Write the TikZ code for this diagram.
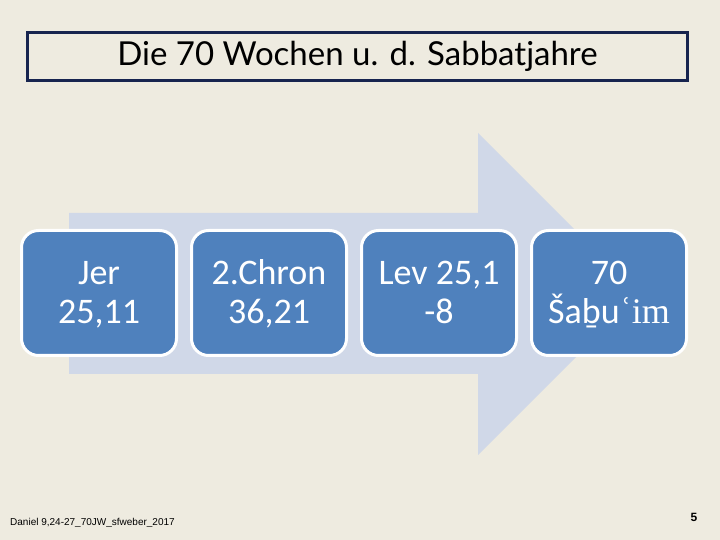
\documentclass[tikz,border=0pt]{standalone}
\usepackage{fontspec}
\setmainfont{Carlito}
\newfontfamily\titlefont{Lato}
\newfontfamily\footfont{Liberation Sans}
\newfontfamily\ayinfont{Liberation Serif}
\usetikzlibrary{positioning}
\definecolor{slidebg}{HTML}{EEEBE0}
\definecolor{arrowfill}{HTML}{D0D8E8}
\definecolor{boxfill}{HTML}{4F81BD}
\definecolor{titleframe}{HTML}{17244F}

\begin{document}
\begin{tikzpicture}[x=1pt,y=1pt,node distance=12pt,
  stepbox/.style={draw=white,line width=3pt,fill=boxfill,rounded corners=17pt,minimum width=155pt,minimum height=125pt,text=white,align=center,inner sep=0pt,font=\fontsize{36}{39}\selectfont,text height=71pt,text depth=9pt}]
  \fill[slidebg] (0,0) rectangle (720,540);
  \useasboundingbox (0,0) rectangle (720,540);
  \node[draw=titleframe,line width=2.5pt,minimum width=660pt,minimum height=48pt,font=\titlefont\fontsize{33}{38}\selectfont](title) at (357.5,483.5) {Die 70 Wochen u. d. Sabbatjahre};
  \fill[arrowfill] (69,166) -- (69,327) -- (478,327) -- (478,407) -- (639,246) -- (478,85) -- (478,166) -- cycle;
  \node[stepbox](jer) at (99,247) {Jer\\25,11};
  \node[stepbox,right= of jer](chron) {2.Chron\\36,21};
  \node[stepbox,right= of chron](lev) {Lev 25,1\\-8};
  \node[stepbox,right= of lev](shabuim) {70\\Šaḇu{\ayinfont ʿim}};
  \node[font=\footfont\fontsize{10}{12}\selectfont,anchor=base west,inner sep=0pt](source) at (10,14) {Daniel 9,24-27\_70JW\_sfweber\_2017};
  \node[font=\footfont\bfseries\fontsize{12}{14}\selectfont](page) at (694,23) {5};
\end{tikzpicture}
\end{document}
